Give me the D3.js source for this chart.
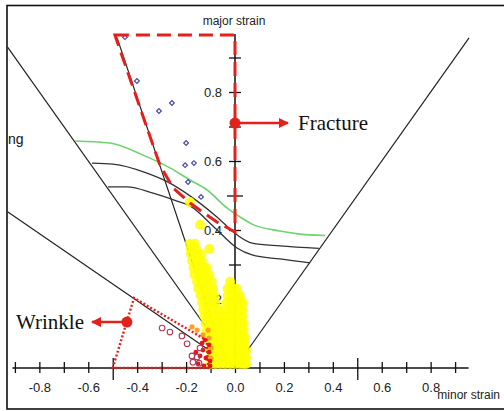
<!DOCTYPE html>
<html>
<head>
<meta charset="utf-8">
<script src="https://cdn.jsdelivr.net/npm/d3@7"></script>
<style>
  body { margin: 0; background: #fff; }
  text { font-family: "Liberation Sans", Arial, sans-serif; }
</style>
</head>
<body>
<div id="chart"></div>
<script>
var width = 504,
  height = 411;

// straight reference lines, [minor, major]
var shearLine = [[-0.93, 0.93], [0, 0]];
var halfLine = [[-0.93, 0.453], [0, 0]];
var tensionLine = [[-0.482, 0.957], [-0.03, 0]];
var biaxialLine = [[0, 0], [0.957, 0.957]];

// forming limit curves
var flcGreen = [[-0.654, 0.658], [-0.511, 0.652], [-0.376, 0.617], [-0.266, 0.58], [-0.184, 0.545],
  [-0.114, 0.516], [-0.033, 0.464], [0.02, 0.438], [0.07, 0.417], [0.184, 0.397], [0.266, 0.388], [0.368, 0.384]];
var flcBlack1 = [[-0.585, 0.594], [-0.499, 0.591], [-0.36, 0.565], [-0.266, 0.536], [-0.184, 0.499],
  [-0.074, 0.438], [0.008, 0.386], [0.07, 0.362], [0.184, 0.354], [0.343, 0.347]];
var flcBlack2 = [[-0.519, 0.525], [-0.442, 0.525], [-0.335, 0.507], [-0.237, 0.484], [-0.184, 0.47],
  [-0.082, 0.406], [0.008, 0.348], [0.07, 0.328], [0.184, 0.316], [0.307, 0.305]];

// marked zones
var fractureZone = [[-0.491, 0.965], [0, 0.965], [0, 0.394], [-0.074, 0.423], [-0.184, 0.478],
  [-0.253, 0.522], [-0.307, 0.588]];
var wrinkleZone = [[-0.5, 0], [-0.413, 0.203], [-0.115, 0.08], [-0.11, 0]];

// measured points
var yellowPts = [
  [-0.184, 0.481], [-0.143, 0.415],
  [-0.185, 0.36], [-0.165, 0.36],
  [-0.18, 0.345], [-0.16, 0.345], [-0.105, 0.345],
  [-0.18, 0.33], [-0.16, 0.33], [-0.14, 0.33],
  [-0.175, 0.31], [-0.155, 0.31], [-0.135, 0.31],
  [-0.17, 0.29], [-0.15, 0.29], [-0.13, 0.29], [-0.115, 0.29],
  [-0.165, 0.27], [-0.145, 0.27], [-0.125, 0.27], [-0.105, 0.27],
  [-0.155, 0.25], [-0.135, 0.25], [-0.115, 0.25], [-0.095, 0.25], [-0.02, 0.25],
  [-0.15, 0.23], [-0.13, 0.23], [-0.11, 0.23], [-0.09, 0.23], [-0.03, 0.23], [-0.01, 0.23], [0.005, 0.23],
  [-0.14, 0.21], [-0.12, 0.21], [-0.1, 0.21], [-0.085, 0.21], [-0.03, 0.21], [-0.01, 0.21], [0.005, 0.21], [0.02, 0.21],
  [-0.135, 0.19], [-0.115, 0.19], [-0.095, 0.19], [-0.08, 0.19], [-0.035, 0.19], [-0.015, 0.19], [0.005, 0.19], [0.02, 0.19], [0.03, 0.19],
  [-0.13, 0.17], [-0.11, 0.17], [-0.09, 0.17], [-0.07, 0.17], [-0.04, 0.17], [-0.02, 0.17], [0, 0.17], [0.02, 0.17], [0.03, 0.17],
  [-0.125, 0.15], [-0.105, 0.15], [-0.085, 0.15], [-0.065, 0.15], [-0.045, 0.15], [-0.025, 0.15], [-0.005, 0.15], [0.015, 0.15], [0.03, 0.15],
  [-0.12, 0.13], [-0.1, 0.13], [-0.08, 0.13], [-0.06, 0.13], [-0.04, 0.13], [-0.02, 0.13], [0, 0.13], [0.02, 0.13], [0.035, 0.13],
  [-0.115, 0.11], [-0.095, 0.11], [-0.075, 0.11], [-0.055, 0.11], [-0.035, 0.11], [-0.015, 0.11], [0.005, 0.11], [0.025, 0.11], [0.035, 0.11],
  [-0.105, 0.09], [-0.085, 0.09], [-0.065, 0.09], [-0.045, 0.09], [-0.025, 0.09], [-0.005, 0.09], [0.015, 0.09], [0.03, 0.09], [0.04, 0.09],
  [-0.1, 0.07], [-0.08, 0.07], [-0.06, 0.07], [-0.04, 0.07], [-0.02, 0.07], [0, 0.07], [0.02, 0.07], [0.035, 0.07], [0.04, 0.07],
  [-0.1, 0.05], [-0.08, 0.05], [-0.06, 0.05], [-0.04, 0.05], [-0.02, 0.05], [0, 0.05], [0.02, 0.05], [0.035, 0.05], [0.045, 0.05],
  [-0.1, 0.03], [-0.08, 0.03], [-0.06, 0.03], [-0.04, 0.03], [-0.02, 0.03], [0, 0.03], [0.02, 0.03], [0.035, 0.03], [0.045, 0.03],
  [-0.1, 0.012], [-0.08, 0.012], [-0.06, 0.012], [-0.04, 0.012], [-0.02, 0.012], [0, 0.012], [0.02, 0.012], [0.035, 0.012], [0.045, 0.012]
];
var bluePts = [[-0.45, 0.959], [-0.401, 0.832], [-0.311, 0.745], [-0.258, 0.768], [-0.2, 0.652],
  [-0.204, 0.588], [-0.168, 0.594], [-0.192, 0.539], [-0.139, 0.496]];
var wrinkleHollow = [[-0.298, 0.116], [-0.266, 0.104], [-0.217, 0.093], [-0.196, 0.07], [-0.176, 0.035],
  [-0.155, 0.032], [-0.143, 0.058], [-0.172, 0.017], [-0.147, 0.014]];
var wrinkleRed = [[-0.123, 0.081], [-0.106, 0.067], [-0.131, 0.052], [-0.106, 0.046], [-0.143, 0.035],
  [-0.119, 0.029], [-0.102, 0.02], [-0.151, 0.012], [-0.127, 0.006], [-0.102, 0.006], [-0.16, 0.046], [-0.135, 0.072]];
var orangePts = [[-0.155, 0.11], [-0.131, 0.096], [-0.106, 0.087], [-0.098, 0.058], [-0.098, 0.029],
  [-0.176, 0.119], [-0.11, 0.11]];

var xTicks = d3.range(-9, 10).map(function(d) { return d / 10; });
var yTicks = d3.range(1, 10).map(function(d) { return d / 10; });

var x = d3.scaleLinear().domain([-0.9, 0.9]).range([14.9, 455.1]);
var y = d3.scaleLinear().domain([0, 0.9]).range([368, 57.5]);

var svg = d3.select("#chart").append("svg")
  .attr("width", width)
  .attr("height", height);

var defs = svg.append("defs");
defs.append("marker")
  .attr("id", "arrow")
  .attr("viewBox", "0 0 10 10")
  .attr("refX", 9).attr("refY", 5)
  .attr("markerWidth", 4).attr("markerHeight", 4)
  .attr("markerUnits", "strokeWidth")
  .attr("orient", "auto")
  .append("path")
  .attr("d", "M0,0L10,5L0,10Z")
  .attr("fill", "#e3201b");

// frame
svg.append("rect")
  .attr("x", 7).attr("y", 5.5)
  .attr("width", 510).attr("height", 403.5)
  .attr("fill", "none")
  .attr("stroke", "#111")
  .attr("stroke-width", 1.6);

var line = d3.line().x(function(d) { return x(d[0]); }).y(function(d) { return y(d[1]); });
var curve = d3.line().x(function(d) { return x(d[0]); }).y(function(d) { return y(d[1]); })
  .curve(d3.curveMonotoneX);

// x axis
var xAxis = d3.axisBottom(x)
  .tickValues(xTicks)
  .tickSize(6)
  .tickFormat(function(d) { return Math.round(d * 10) % 2 === 0 ? d.toFixed(1) : ""; });

var gx = svg.append("g")
  .attr("transform", "translate(0," + y(0) + ")")
  .call(xAxis);
gx.select(".domain").remove();
gx.selectAll(".tick line")
  .attr("stroke", "#111")
  .attr("stroke-width", 1.3)
  .attr("y1", function(d) { return Math.abs(Math.abs(d) - 0.5) < 1e-6 ? -10 : -6; })
  .attr("y2", function(d) { return Math.abs(Math.abs(d) - 0.5) < 1e-6 ? 12 : 5; });
gx.selectAll(".tick text")
  .attr("y", 15)
  .attr("fill", "#222")
  .style("font-size", "13px");
gx.append("line")
  .attr("x1", x(-0.91)).attr("x2", x(0.955))
  .attr("stroke", "#111").attr("stroke-width", 1.5);

// y axis
var yAxis = d3.axisLeft(y)
  .tickValues(yTicks)
  .tickSize(6)
  .tickFormat(function(d) { return Math.round(d * 10) % 2 === 0 ? d.toFixed(1) : ""; });

var gy = svg.append("g")
  .attr("transform", "translate(" + x(0) + ",0)")
  .call(yAxis);
gy.select(".domain").remove();
gy.selectAll(".tick line")
  .attr("stroke", "#111")
  .attr("stroke-width", 1.3)
  .attr("x1", function(d) { return Math.abs(d - 0.5) < 1e-6 ? 8 : 6; })
  .attr("x2", function(d) { return Math.abs(d - 0.5) < 1e-6 ? -8 : -6; });
gy.selectAll(".tick text")
  .attr("x", -13)
  .attr("fill", "#222")
  .style("font-size", "13px");
gy.append("line")
  .attr("y1", y(0)).attr("y2", y(0.968))
  .attr("stroke", "#111").attr("stroke-width", 1.5);

svg.append("text")
  .attr("x", 234).attr("y", 25)
  .attr("text-anchor", "middle")
  .attr("fill", "#222")
  .style("font-size", "12px")
  .text("major strain");

svg.append("text")
  .attr("x", 500).attr("y", 399)
  .attr("text-anchor", "end")
  .attr("fill", "#222")
  .style("font-size", "12px")
  .text("minor strain");

svg.append("text")
  .attr("x", 8).attr("y", 144)
  .attr("fill", "#111")
  .style("font-size", "14px")
  .text("ng");

// reference lines
[shearLine, halfLine, tensionLine, biaxialLine].forEach(function(l) {
  svg.append("path")
    .attr("d", line(l))
    .attr("fill", "none")
    .attr("stroke", "#222")
    .attr("stroke-width", 1.2);
});

svg.append("path").attr("d", curve(flcBlack2))
  .attr("fill", "none").attr("stroke", "#333").attr("stroke-width", 1.3);
svg.append("path").attr("d", curve(flcBlack1))
  .attr("fill", "none").attr("stroke", "#333").attr("stroke-width", 1.3);
svg.append("path").attr("d", curve(flcGreen))
  .attr("fill", "none").attr("stroke", "#6fd36f").attr("stroke-width", 1.6);

// points
svg.append("g").selectAll("circle")
  .data(yellowPts)
  .enter().append("circle")
  .attr("cx", function(d) { return x(d[0]); })
  .attr("cy", function(d) { return y(d[1]); })
  .attr("r", 5)
  .attr("fill", "#ffff00")
  .attr("fill-opacity", 0.85);

svg.append("g").selectAll("path")
  .data(bluePts)
  .enter().append("path")
  .attr("d", d3.symbol().type(d3.symbolSquare).size(11))
  .attr("transform", function(d) { return "translate(" + x(d[0]) + "," + y(d[1]) + ") rotate(45)"; })
  .attr("fill", "none")
  .attr("stroke", "#4a4aa8")
  .attr("stroke-width", 1.2);

svg.append("g").selectAll("circle")
  .data(orangePts)
  .enter().append("circle")
  .attr("cx", function(d) { return x(d[0]); })
  .attr("cy", function(d) { return y(d[1]); })
  .attr("r", 2.6)
  .attr("fill", "#ffa020");

svg.append("g").selectAll("circle")
  .data(wrinkleRed)
  .enter().append("circle")
  .attr("cx", function(d) { return x(d[0]); })
  .attr("cy", function(d) { return y(d[1]); })
  .attr("r", 2.4)
  .attr("fill", "#e8141c");

svg.append("g").selectAll("circle")
  .data(wrinkleHollow)
  .enter().append("circle")
  .attr("cx", function(d) { return x(d[0]); })
  .attr("cy", function(d) { return y(d[1]); })
  .attr("r", 2.8)
  .attr("fill", "none")
  .attr("stroke", "#b03a55")
  .attr("stroke-width", 1.1);

// zones
svg.append("path")
  .attr("d", line(fractureZone) + "Z")
  .attr("fill", "none")
  .attr("stroke", "#e3201b")
  .attr("stroke-width", 3)
  .attr("stroke-dasharray", "14,7");

svg.append("path")
  .attr("d", line(wrinkleZone) + "Z")
  .attr("fill", "none")
  .attr("stroke", "#e3201b")
  .attr("stroke-width", 2.4)
  .attr("stroke-dasharray", "2,2");

// annotations
function callout(px, py, tip, label, tx) {
  svg.append("line")
    .attr("x1", x(px)).attr("y1", y(py))
    .attr("x2", tip).attr("y2", y(py))
    .attr("stroke", "#e3201b")
    .attr("stroke-width", 2.5)
    .attr("marker-end", "url(#arrow)");
  svg.append("circle")
    .attr("cx", x(px)).attr("cy", y(py))
    .attr("r", 5.5)
    .attr("fill", "#e3201b");
  svg.append("text")
    .attr("x", tx).attr("y", y(py) + 7)
    .attr("fill", "#111")
    .style("font-family", "'Liberation Serif', 'Times New Roman', serif")
    .style("font-size", "21px")
    .text(label);
}
callout(0, 0.71, 288, "Fracture", 298);
callout(-0.442, 0.133, 92, "Wrinkle", 16);
</script>
</body>
</html>
